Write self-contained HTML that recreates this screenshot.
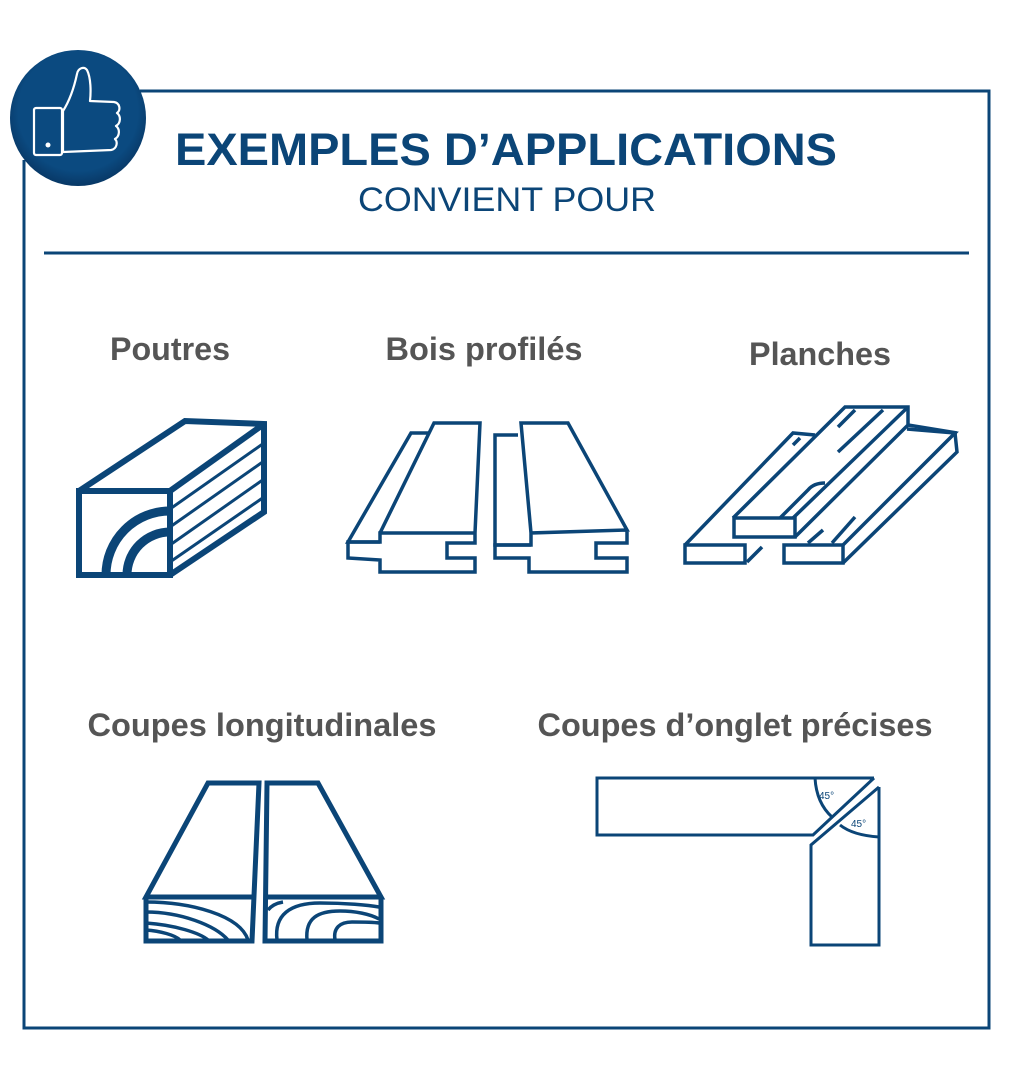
<!DOCTYPE html>
<html><head><meta charset="utf-8"><style>
html,body{margin:0;padding:0;background:#fff;}
svg{display:block;}
text{font-family:"Liberation Sans",sans-serif;}
</style></head><body>
<svg width="1013" height="1091" viewBox="0 0 1013 1091" xmlns="http://www.w3.org/2000/svg">
<defs>
<radialGradient id="g" cx="50%" cy="45%" r="55%"><stop offset="0.8" stop-color="#0b4a80"/><stop offset="1" stop-color="#083866"/></radialGradient>
</defs>
<g fill="none" stroke="#0b4577" stroke-width="3">
<polyline points="140,91 989,91 989,1028 24,1028 24,160"/>
</g>
<circle cx="78" cy="118" r="68" fill="url(#g)"/>
<g fill="none" stroke="#fff" stroke-width="2.2" stroke-linejoin="round">
<rect x="34" y="108" width="28" height="47" rx="2"/>
<path d="M63,111 C70,100 74,88 77,74 C78,68 84,66 87,70 C91,78 91,92 90,101 L114,102 C120,103 121,110 117,113 C121,116 121,123 116,126 C120,129 120,136 115,139 C118,142 117,149 111,150 L63,152 Z"/>
</g>
<circle cx="48" cy="145" r="2.5" fill="#fff"/>
<text x="506" y="165" text-anchor="middle" font-size="45" font-weight="bold" fill="#0b4577" textLength="662" lengthAdjust="spacingAndGlyphs">EXEMPLES D’APPLICATIONS</text>
<text x="507" y="211" text-anchor="middle" font-size="34" fill="#0b4577" textLength="298" lengthAdjust="spacingAndGlyphs">CONVIENT POUR</text>
<line x1="44" y1="253" x2="969" y2="253" stroke="#0b4577" stroke-width="3"/>
<g font-size="32" font-weight="bold" fill="#555" text-anchor="middle">
<text x="170" y="360" textLength="120" lengthAdjust="spacingAndGlyphs">Poutres</text>
<text x="484" y="360" textLength="197" lengthAdjust="spacingAndGlyphs">Bois profilés</text>
<text x="820" y="365" textLength="142" lengthAdjust="spacingAndGlyphs">Planches</text>
<text x="262" y="736" textLength="349" lengthAdjust="spacingAndGlyphs">Coupes longitudinales</text>
<text x="735" y="736" textLength="395" lengthAdjust="spacingAndGlyphs">Coupes d’onglet précises</text>
</g>
<g fill="none" stroke="#0b4577" stroke-linejoin="miter">
<g stroke-width="6">
<rect x="79" y="491" width="91" height="84"/>
<polyline points="79,491 185,421 264,424 264,512 170,575"/>
<line x1="170" y1="491" x2="264" y2="424"/>
</g>
<g stroke-width="3">
<line x1="170" y1="509" x2="264" y2="443"/>
<line x1="170" y1="527" x2="264" y2="461"/>
<line x1="170" y1="545" x2="264" y2="479"/>
<line x1="170" y1="562" x2="264" y2="497"/>
</g>
<g stroke-width="9">
<path d="M106,575 A64,64 0 0 1 170,511"/>
<path d="M127,575 A43,43 0 0 1 170,532"/>
</g>
<g stroke-width="3.5">
<polyline points="380,542 348,542 411,433 430,433"/>
<polyline points="380,533 434,423 480,423 475,533 380,533 380,542 348,542 348,558 380,560 380,572 475,572 475,558 447,558 447,543 475,543 475,533"/>
<polyline points="531,545 495,545 495,435 518,435"/>
<polyline points="531,533 521,423 568,423 627,530 531,533 531,545 495,545 495,558 529,558 529,572 627,572 627,558 596,558 596,543 627,543 627,530"/>
</g>
<g stroke-width="3.5">
<polyline points="733,518 845,407 908,407 908,425 795,537"/>
<rect x="734" y="518" width="61" height="19"/>
<line x1="793" y1="518" x2="908" y2="407"/>
<polyline points="685,545 793,433 815,435"/>
<rect x="685" y="545" width="60" height="18"/>
<line x1="747" y1="562" x2="762" y2="547"/>
<rect x="784" y="545" width="59" height="18"/>
<polyline points="843,545 955,433 907,429"/>
<polyline points="955,433 957,452 843,563"/>
<line x1="908" y1="425" x2="957" y2="433"/>
<line x1="838" y1="427" x2="855" y2="410"/>
<line x1="838" y1="452" x2="883" y2="410"/>
<line x1="793" y1="445" x2="800" y2="438"/>
<path d="M780,518 L808,490 C812,485 818,483 825,483"/>
<line x1="808" y1="543" x2="823" y2="530"/>
<line x1="832" y1="543" x2="855" y2="517"/>
</g>
<g stroke-width="5">
<polyline points="252,897 146,897 208,783 259,783 252,941 146,941 146,897"/>
<polyline points="265,897 381,897 318,783 267,783 265,941 381,941 381,897"/>
</g>
<g stroke-width="3.5">
<path d="M146,902 C190,902 240,915 248,940"/>
<path d="M146,912 C180,912 215,925 228,940"/>
<path d="M146,923 C175,925 200,933 208,940"/>
<path d="M146,930 C160,931 175,935 180,940"/>
<path d="M268,910 C272,905 277,903 283,902"/>
<path d="M277,940 C274,915 290,903 320,903 C345,903 368,905 379,907"/>
<path d="M307,940 C305,918 318,911 340,911 C355,911 370,914 379,919"/>
<path d="M335,940 C333,928 340,922 352,922 C362,922 372,922 379,923"/>
</g>
<g stroke-width="3">
<polyline points="874,778 597,778 597,835 813,835 874,778"/>
<polyline points="879,787 879,945 811,945 811,845 879,787"/>
<path d="M815,778 C816,795 822,808 832,817"/>
<path d="M840,825 C850,833 864,836 879,837"/>
</g>
</g>
<text x="819" y="799" font-size="10" fill="#0b4577">45°</text>
<text x="851" y="827" font-size="10" fill="#0b4577">45°</text>
</svg>
</body></html>
